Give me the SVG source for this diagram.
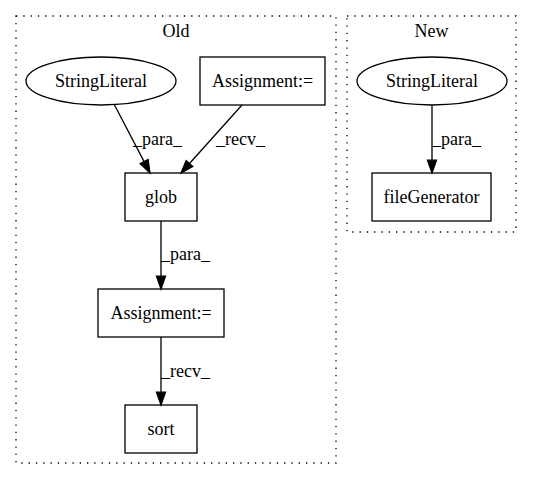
<svg xmlns="http://www.w3.org/2000/svg" width="533" height="480" viewBox="0 0 533 480">
<style>
.cl{fill:none;stroke:#000;stroke-dasharray:1.3,6;stroke-width:1.3}
.nd{fill:none;stroke:#000;stroke-width:1.3}
.e{fill:none;stroke:#000;stroke-width:1.3}
.ah{fill:#000;stroke:#000;stroke-width:1.3}
text{font-family:"Liberation Serif","Times New Roman",serif;font-size:18px;fill:#000}
.c{text-anchor:middle}
</style>
<rect width="533" height="480" fill="#fff"/>
<g id="cluster_old">
<rect class="cl" x="16" y="16" width="320" height="447"/>
<text class="c" x="176" y="37">Old</text>
</g>
<g id="cluster_new">
<rect class="cl" x="347" y="16" width="169" height="216"/>
<text class="c" x="431.5" y="37">New</text>
</g>
<g id="n_sl_old">
<ellipse class="nd" cx="101" cy="81" rx="75" ry="24"/>
<text class="c" x="101" y="87">StringLiteral</text>
</g>
<g id="n_assign1">
<rect class="nd" x="200" y="57" width="125" height="48"/>
<text class="c" x="262.5" y="87">Assignment:=</text>
</g>
<g id="n_glob">
<rect class="nd" x="125" y="173" width="72" height="48"/>
<text class="c" x="161" y="203">glob</text>
</g>
<g id="n_assign2">
<rect class="nd" x="98" y="289" width="126" height="48"/>
<text class="c" x="161" y="319">Assignment:=</text>
</g>
<g id="n_sort">
<rect class="nd" x="125" y="405" width="72" height="48"/>
<text class="c" x="161" y="435">sort</text>
</g>
<g id="n_sl_new">
<ellipse class="nd" cx="432" cy="81" rx="75" ry="24"/>
<text class="c" x="432" y="87">StringLiteral</text>
</g>
<g id="n_filegen">
<rect class="nd" x="372" y="173" width="119" height="48"/>
<text class="c" x="431.5" y="203">fileGenerator</text>
</g>
<g id="edges">
<path class="e" d="M114,104 L144.1,161.6"/>
<polygon class="ah" points="148.1,159.5 150,173 140.1,163.7"/>
<text x="133" y="145">_para_</text>
<path class="e" d="M242,105 L189.5,163.5"/>
<polygon class="ah" points="192.85,166.5 181,173 186.15,160.5"/>
<text x="216" y="145">_recv_</text>
<path class="e" d="M161,221 L161,276.2"/>
<polygon class="ah" points="156.5,276.2 161,289 165.5,276.2"/>
<text x="161" y="260">_para_</text>
<path class="e" d="M161,337 L161,392.2"/>
<polygon class="ah" points="156.5,392.2 161,405 165.5,392.2"/>
<text x="161" y="377">_recv_</text>
<path class="e" d="M432,105 L432,160.2"/>
<polygon class="ah" points="427.5,160.2 432,173 436.5,160.2"/>
<text x="432" y="145">_para_</text>
</g>
</svg>
